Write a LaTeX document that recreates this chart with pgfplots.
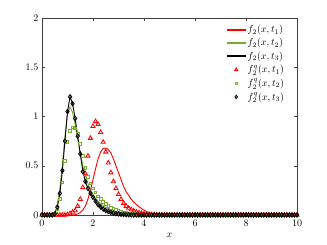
\documentclass[border=0pt]{standalone}
\usepackage{pgfplots}
\usepackage{pgfplotstable}
\pgfplotsset{compat=1.18}
\definecolor{mgreen}{rgb}{0.466,0.674,0.188}
\pgfplotstableread{
x rq gq kq rl gl kl
0.0 0 0 0 0 0 0
0.1 0 0 0 0 0 0
0.2 0 0 0 0 0 0
0.3 0 0 0 0 0 0
0.4 0 0 0 0 0 0
0.5 0 0.01 0.01 0 0.02 0.01
0.6 0 0.06 0.08 0 0.10 0.08
0.7 0 0.16 0.22 0 0.27 0.22
0.8 0 0.33 0.45 0 0.52 0.45
0.9 0 0.55 0.75 0 0.80 0.75
1.0 0.005 0.74 1.05 0 1.02 1.05
1.1 0.015 0.85 1.20 0 1.10 1.20
1.2 0.03 0.89 1.13 0 1.04 1.13
1.3 0.045 0.88 0.98 0.003 0.92 0.98
1.4 0.09 0.82 0.80 0.01 0.77 0.80
1.5 0.16 0.72 0.62 0.025 0.63 0.62
1.6 0.28 0.60 0.44 0.05 0.50 0.45
1.7 0.42 0.48 0.34 0.09 0.40 0.34
1.8 0.60 0.39 0.27 0.16 0.32 0.27
1.9 0.78 0.32 0.22 0.25 0.26 0.22
2.0 0.90 0.27 0.18 0.36 0.21 0.18
2.1 0.95 0.23 0.14 0.47 0.17 0.14
2.2 0.92 0.19 0.105 0.57 0.14 0.105
2.3 0.84 0.16 0.08 0.64 0.115 0.08
2.4 0.74 0.13 0.06 0.675 0.095 0.06
2.5 0.64 0.11 0.045 0.68 0.078 0.045
2.6 0.53 0.09 0.035 0.665 0.064 0.035
2.7 0.43 0.075 0.026 0.63 0.052 0.026
2.8 0.34 0.06 0.019 0.57 0.042 0.019
2.9 0.27 0.05 0.014 0.50 0.034 0.014
3.0 0.21 0.04 0.010 0.43 0.027 0.010
3.1 0.16 0.032 0.007 0.36 0.021 0.007
3.2 0.12 0.025 0.005 0.29 0.016 0.005
3.3 0.09 0.02 0.003 0.235 0.012 0.003
3.4 0.07 0.015 0.002 0.20 0.009 0.002
3.5 0.055 0.011 0.001 0.16 0.006 0.001
3.6 0.042 0.008 0 0.13 0.004 0
3.7 0.032 0.006 0 0.105 0.003 0
3.8 0.024 0.004 0 0.085 0.002 0
3.9 0.018 0.003 0 0.065 0.001 0
4.0 0.013 0.002 0 0.05 0 0
4.1 0.009 0.001 0 0.036 0 0
4.2 0.006 0 0 0.025 0 0
4.3 0.004 0 0 0.017 0 0
4.4 0.003 0 0 0.011 0 0
4.5 0.002 0 0 0.007 0 0
4.6 0.001 0 0 0.004 0 0
4.7 0 0 0 0.002 0 0
4.8 0 0 0 0.001 0 0
4.9 0 0 0 0 0 0
5.0 0 0 0 0 0 0
5.1 0 0 0 0 0 0
5.2 0 0 0 0 0 0
5.3 0 0 0 0 0 0
5.4 0 0 0 0 0 0
5.5 0 0 0 0 0 0
5.6 0 0 0 0 0 0
5.7 0 0 0 0 0 0
5.8 0 0 0 0 0 0
5.9 0 0 0 0 0 0
6.0 0 0 0 0 0 0
6.1 0 0 0 0 0 0
6.2 0 0 0 0 0 0
6.3 0 0 0 0 0 0
6.4 0 0 0 0 0 0
6.5 0 0 0 0 0 0
6.6 0 0 0 0 0 0
6.7 0 0 0 0 0 0
6.8 0 0 0 0 0 0
6.9 0 0 0 0 0 0
7.0 0 0 0 0 0 0
7.1 0 0 0 0 0 0
7.2 0 0 0 0 0 0
7.3 0 0 0 0 0 0
7.4 0 0 0 0 0 0
7.5 0 0 0 0 0 0
7.6 0 0 0 0 0 0
7.7 0 0 0 0 0 0
7.8 0 0 0 0 0 0
7.9 0 0 0 0 0 0
8.0 0 0 0 0 0 0
8.1 0 0 0 0 0 0
8.2 0 0 0 0 0 0
8.3 0 0 0 0 0 0
8.4 0 0 0 0 0 0
8.5 0 0 0 0 0 0
8.6 0 0 0 0 0 0
8.7 0 0 0 0 0 0
8.8 0 0 0 0 0 0
8.9 0 0 0 0 0 0
9.0 0 0 0 0 0 0
9.1 0 0 0 0 0 0
9.2 0 0 0 0 0 0
9.3 0 0 0 0 0 0
9.4 0 0 0 0 0 0
9.5 0 0 0 0 0 0
9.6 0 0 0 0 0 0
9.7 0 0 0 0 0 0
9.8 0 0 0 0 0 0
9.9 0 0 0 0 0 0
10.0 0 0 0 0 0 0
}\data
\begin{document}
\begin{tikzpicture}
\path[fill=white] (0,0) rectangle (327pt,245pt);
\begin{axis}[
  at={(42pt,30pt)}, anchor=south west,
  scale only axis, width=255pt, height=197pt,
  xmin=0, xmax=10, ymin=0, ymax=2,
  xtick={0,2,4,6,8,10}, ytick={0,0.5,1,1.5,2},
  tick align=inside, tick style={black!75, line width=0.4pt},
  major tick length=3pt,
  axis line style={black!75, line width=0.4pt},
  xticklabel style={yshift=-2pt},
  xlabel={$x$}, xlabel style={yshift=1pt},
  clip=false,
  legend cell align=left,
  legend style={fill=none, draw=none, at={(0.962,0.98)}, anchor=north east,
    row sep=0.3pt, inner sep=1pt, text=black},
]
\addplot[red, line width=0.9pt, legend image code/.code={\fill[fill=red] (0pt,-0.45pt) rectangle (18pt,0.45pt);}] table[x=x, y=rl] {\data};
\addlegendentry{$f_2(x,t_1)$}
\addplot[mgreen, line width=0.9pt, legend image code/.code={\fill[fill=mgreen] (0pt,-0.45pt) rectangle (18pt,0.45pt);}] table[x=x, y=gl] {\data};
\addlegendentry{$f_2(x,t_2)$}
\addplot[black, line width=0.9pt, legend image code/.code={\fill[fill=black] (0pt,-0.45pt) rectangle (18pt,0.45pt);}] table[x=x, y=kl] {\data};
\addlegendentry{$f_2(x,t_3)$}
\addplot[only marks, red, mark=triangle, mark size=2.4pt, mark options={line width=0.85pt}, legend image code/.code={\draw[red, line width=0.8pt] plot[mark=triangle, mark size=1.8pt] coordinates {(9pt,0pt)};}] table[x=x, y=rq] {\data};
\addlegendentry{$f_2^q(x,t_1)$}
\addplot[only marks, mgreen, mark=square, mark size=1.35pt, mark options={line width=0.85pt}, legend image code/.code={\draw[mgreen, line width=0.8pt] plot[mark=square, mark size=1.1pt] coordinates {(9pt,0pt)};}] table[x=x, y=gq] {\data};
\addlegendentry{$f_2^q(x,t_2)$}
\addplot[only marks, black, mark=diamond, mark size=2.2pt, mark options={line width=0.85pt}, legend image code/.code={\draw[black, line width=0.8pt] plot[mark=diamond, mark size=1.7pt] coordinates {(9pt,0pt)};}] table[x=x, y=kq] {\data};
\addlegendentry{$f_2^q(x,t_3)$}
\end{axis}
\end{tikzpicture}
\end{document}
